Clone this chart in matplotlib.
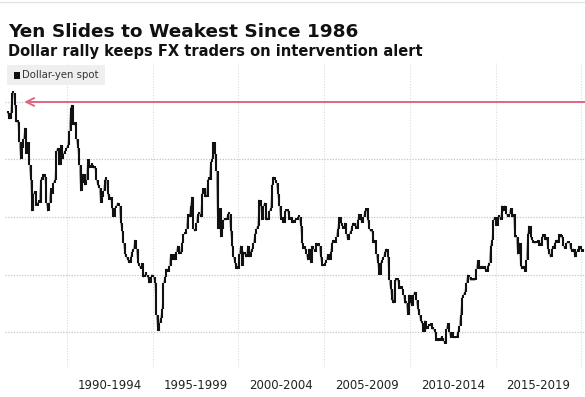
import matplotlib
matplotlib.use("Agg")
import matplotlib.pyplot as plt
import numpy as np
from matplotlib.lines import Line2D
from matplotlib.patches import Rectangle

# ---- data: month-end dollar-yen ----
start_year = 1986
start_month = 7
usdjpy = [
    # 1986 Jul-Dec
    156, 154, 156, 163, 163, 159,
    # 1987
    153, 153, 146, 140, 144, 147, 151, 142, 146, 138, 133, 122,
    # 1988
    128, 129, 124, 125, 125, 133, 133, 135, 134, 125, 122, 125,
    # 1989
    130, 128, 132, 133, 143, 144, 138, 145, 140, 142, 143, 144,
    # 1990
    145, 150, 158, 159, 152, 153, 147, 144, 138, 129, 132, 135,
    # 1991
    131, 133, 140, 137, 138, 138, 137, 137, 133, 131, 130, 125,
    # 1992
    127, 129, 133, 133, 128, 126, 127, 123, 120, 123, 124, 125,
    # 1993
    124, 118, 115, 111, 107, 106, 105, 104, 106, 108, 109, 112,
    # 1994
    109, 104, 103, 102, 104, 99, 100, 100, 99, 97, 99, 100,
    # 1995
    99, 97, 86, 80.5, 83, 85, 88, 97, 99, 102, 101, 103,
    # 1996
    107, 105, 107, 105, 108, 110, 107, 108, 111, 114, 114, 116,
    # 1997
    121, 120, 124, 127, 116, 115, 118, 121, 121, 120, 128, 130,
    # 1998
    127, 127, 133, 133, 139, 140, 146, 142, 136, 116, 123, 113,
    # 1999
    116, 119, 119, 119, 121, 121, 115, 110, 106, 104, 102, 102,
    # 2000
    107, 110, 103, 108, 107, 106, 110, 106, 108, 109, 111, 114,
    # 2001
    116, 117, 126, 124, 119, 124, 125, 119, 119, 122, 123, 131,
    # 2002
    134, 133, 132, 128, 124, 119, 120, 118, 122, 122, 122, 119,
    # 2003
    120, 118, 118, 119, 119, 120, 120, 117, 111, 109, 109, 107,
    # 2004
    105, 109, 104, 110, 109, 108, 111, 110, 110, 106, 103, 103,
    # 2005
    104, 105, 107, 105, 108, 111, 112, 111, 113, 116, 120, 118,
    # 2006
    117, 116, 118, 114, 112, 114, 115, 117, 118, 117, 116, 119,
    # 2007
    121, 119, 118, 120, 122, 123, 119, 116, 115, 115, 111, 112,
    # 2008
    107, 104, 100, 104, 105, 106, 108, 109, 106, 98, 95, 91,
    # 2009
    90, 98, 98, 98, 95, 96, 95, 93, 90, 90, 86, 93,
    # 2010
    90, 89, 93, 94, 91, 88, 86, 84, 83, 80, 84, 81,
    # 2011
    82, 82, 83, 81, 81, 80, 77, 77, 77, 78, 78, 77,
    # 2012
    76, 81, 83, 80, 78, 80, 78, 78, 78, 80, 82, 86,
    # 2013
    92, 93, 94, 97, 100, 99, 98, 98, 98, 98, 102, 105,
    # 2014
    102, 102, 103, 102, 102, 101, 103, 104, 110, 112, 119, 120,
    # 2015
    117, 120, 120, 119, 124, 122, 124, 121, 120, 121, 123, 120,
    # 2016
    121, 113, 113, 107, 111, 103, 102, 103, 101, 105, 114, 117,
    # 2017
    113, 112, 111, 111, 111, 112, 110, 110, 113, 114, 112, 113,
    # 2018
    109, 107, 106, 109, 109, 111, 112, 111, 114, 113, 113, 110,
    # 2019
    109, 111, 111, 111, 109, 108, 109, 106, 108, 108, 110, 109,
    # 2020
    108, 108,
]
period_labels = ["1990-1994", "1995-1999", "2000-2004", "2005-2009",
                 "2010-2014", "2015-2019"]
period_starts = [1990, 1995, 2000, 2005, 2010, 2015, 2020]
reference_level = 160
title = "Yen Slides to Weakest Since 1986"
subtitle = "Dollar rally keeps FX traders on intervention alert"
legend_label = "Dollar-yen spot"

# ---- figure ----
W, H = 585, 397
fig = plt.figure(figsize=(W / 100, H / 100), dpi=100)
fig.patch.set_facecolor("white")

ax = fig.add_axes([5 / W, (H - 368) / H, (W - 5) / W, (368 - 62) / H])
ax.set_facecolor("white")

closes = np.array(usdjpy, dtype=float)
n = len(closes)
t = start_year + (start_month - 1 + np.arange(n) + 0.5) / 12.0
opens = np.concatenate([[closes[0]], closes[:-1]])

lo = np.minimum(opens, closes)
hi = np.maximum(opens, closes)
hi = np.where(hi - lo < 0.8, lo + 0.8, hi)
ax.plot(t, closes, color="#888888", lw=0.6, zorder=2)
ax.vlines(t, lo, hi, color="#111111", lw=1.5, zorder=3)

ax.set_xlim(1986.38, 2020.22)
ax.set_ylim(67.5, 173.9)

# grid
ax.set_xticks(period_starts)
ax.set_xticklabels([""] * len(period_starts))
ax.set_xticks([s + 2.5 for s in period_starts[:-1]], minor=True)
ax.set_xticklabels(period_labels, minor=True)
ax.tick_params(axis="x", which="both", length=0, pad=8,
               labelsize=8.5, labelcolor="#222222")
ax.set_yticks([80, 100, 120, 140, 160])
ax.set_yticklabels([])
ax.tick_params(axis="y", length=0)
ax.grid(axis="x", which="major", color="#dcdcdc", ls=(0, (1, 1.5)), lw=0.8)
ax.grid(axis="y", which="major", color="#c4c4c4", ls=(0, (1, 1.2)), lw=0.9)
ax.set_axisbelow(True)
for s in ax.spines.values():
    s.set_visible(False)

# reference line with arrow
ax.annotate("", xy=(1987.5, reference_level), xytext=(2020.3, reference_level),
            arrowprops=dict(arrowstyle="->", color="#e06680", lw=1.4,
                            mutation_scale=14, shrinkA=0, shrinkB=0),
            zorder=4, annotation_clip=False)

# legend box
fig.patches.append(Rectangle((7 / W, (H - 85) / H), 98 / W, 20 / H,
                             transform=fig.transFigure, facecolor="#efefef",
                             edgecolor="none", zorder=1))
fig.patches.append(Rectangle((14 / W, (H - 78.5) / H), 6 / W, 7 / H,
                             transform=fig.transFigure, facecolor="#111111",
                             edgecolor="none", zorder=2))
fig.text(22 / W, (H - 75) / H, legend_label, fontsize=7.3, color="#333333",
         va="center", ha="left", zorder=3)

# titles
fig.text(8 / W, (H - 37) / H, title, fontsize=13.3, fontweight="bold",
         color="#111111", ha="left", va="baseline")
fig.text(8 / W, (H - 56) / H, subtitle, fontsize=10.5, fontweight="bold",
         color="#111111", ha="left", va="baseline")

# faint top border
fig.add_artist(Line2D([0, 1], [1 - 1.5 / H, 1 - 1.5 / H],
                      transform=fig.transFigure, color="#e4e4e4", lw=1))

fig.savefig("out.png", dpi=100, facecolor="white")
